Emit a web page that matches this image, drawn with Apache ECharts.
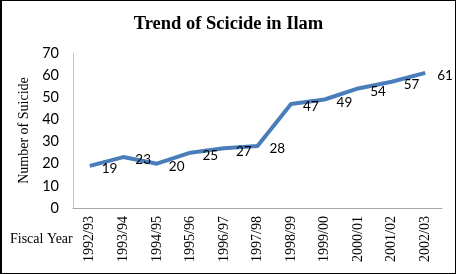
<!DOCTYPE html>
<html>
<head>
<meta charset="utf-8">
<script src="https://cdn.jsdelivr.net/npm/echarts@6/dist/echarts.min.js"></script>
<style>
  html, body { margin: 0; padding: 0; background: #fff; }
  #chart { width: 456px; height: 274px; box-sizing: border-box; border: 1px solid #000; border-left-width: 2px; }
</style>
</head>
<body>
<div id="chart"></div>
<script>
const years = ['1992/93', '1993/94', '1994/95', '1995/96', '1996/97', '1997/98',
  '1998/99', '1999/00', '2000/01', '2001/02', '2002/03']
const suicides = [19, 23, 20, 25, 27, 28, 47, 49, 54, 57, 61]

const chart = echarts.init(document.getElementById('chart'))

const option = {
  animation: false,
  title: {
    text: 'Trend of Scicide in Ilam',
    left: 'center',
    top: 9,
    textStyle: {
      fontFamily: 'Liberation Serif',
      fontWeight: 'bold',
      fontSize: 18.5,
      color: '#000'
    }
  },
  grid: {
    left: 71,
    right: 13,
    top: 52,
    bottom: 65
  },
  graphic: [
    {
      type: 'text',
      left: 8,
      top: 231,
      style: {
        text: 'Fiscal Year',
        font: '14px "Liberation Serif"',
        fill: '#000'
      }
    }
  ],
  xAxis: {
    type: 'category',
    data: years,
    boundaryGap: true,
    axisLine: { lineStyle: { color: '#a6a6a6', width: 1 } },
    axisTick: { show: false },
    axisLabel: {
      rotate: 90,
      margin: 8,
      interval: 0,
      color: '#000',
      fontFamily: 'Liberation Serif',
      fontSize: 14
    }
  },
  yAxis: {
    type: 'value',
    min: 0,
    max: 70,
    interval: 10,
    name: 'Number of Suicide',
    nameLocation: 'middle',
    nameGap: 40,
    nameRotate: 90,
    nameTextStyle: {
      fontFamily: 'Liberation Serif',
      fontSize: 14,
      color: '#000'
    },
    axisLine: { show: true, lineStyle: { color: '#c8c8c8', width: 1 } },
    axisTick: { show: false },
    splitLine: { show: false },
    axisLabel: {
      margin: 14,
      color: '#000',
      fontFamily: 'Lato, sans-serif',
      fontSize: 14.5
    }
  },
  series: [
    {
      type: 'line',
      data: suicides,
      symbol: 'circle',
      symbolSize: 2,
      showSymbol: true,
      showAllSymbol: true,
      itemStyle: { color: 'rgba(74,126,187,0)', borderWidth: 0 },
      lineStyle: { color: '#4a7ebb', width: 4 },
      label: {
        show: true,
        position: 'right',
        distance: 11,
        offset: [0, 3],
        color: '#000',
        fontFamily: 'Lato, sans-serif',
        fontSize: 13.5
      }
    }
  ]
}

chart.setOption(option)
</script>
</body>
</html>
